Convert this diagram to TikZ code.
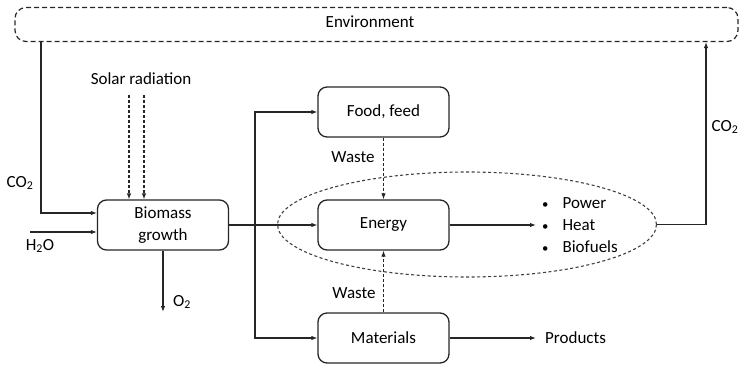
\documentclass[tikz,border=0pt]{standalone}
\usepackage{fontspec}
\usepackage{graphicx}
\setmainfont{Carlito}
\usetikzlibrary{arrows.meta,shapes.geometric}
\newcommand{\mybul}{\raisebox{0.5pt}{\scalebox{0.75}{\textbullet}}}
\begin{document}
\begin{tikzpicture}[x=1pt,y=-1pt,
  font=\fontsize{17}{22}\selectfont,
  arr/.style={draw=black!85,line width=1.1pt,-{Latex[length=6pt,width=4.5pt]}},
  darr/.style={draw=black!85,line width=1.1pt,dash pattern=on 3pt off 2pt,-{Latex[length=6pt,width=4.5pt]}},
  box/.style={draw=black!85,line width=1.3pt,rounded corners=9pt,minimum width=131pt,minimum height=50pt,align=center,inner sep=0pt},
  lbl/.style={inner sep=0pt}]
\useasboundingbox (0,0) rectangle (740,365);
\node[draw=black!85,line width=1.2pt,dash pattern=on 5pt off 3pt,rounded corners=11pt,minimum width=723pt,minimum height=34pt,inner sep=0pt] (env) at (376.5,24.5) {};
\node[lbl] (envt) at (370,22) {Environment};
\node[box] (bio) at (163,225) {Biomass\\growth};
\node[box] (food) at (383.5,112) {Food, feed};
\node[box] (energy) at (383.5,225) {Energy};
\node[box] (mat) at (383.5,338) {Materials};
\node[draw=black!75,line width=1.1pt,dash pattern=on 3pt off 2.5pt,ellipse,minimum width=379pt,minimum height=105pt,inner sep=0pt] (ell) at (467,224.5) {};
\node[lbl,anchor=west] (outs) at (542,226.5) {\def\arraystretch{1.0}\begin{tabular}{@{}l@{\hspace{14pt}}l@{}}\mybul & Power\\ \mybul & Heat\\ \mybul & Biofuels\end{tabular}};
\node[lbl,anchor=west] (prod) at (545,338) {Products};
\node[lbl] (solar) at (141,79) {Solar radiation};
\node[lbl] (co2l) at (20,183) {CO\textsubscript{2}};
\node[lbl] (h2ol) at (40,246) {H\textsubscript{2}O};
\node[lbl,anchor=west] (o2l) at (173,302) {O\textsubscript{2}};
\node[lbl] (w1) at (353,157) {Waste};
\node[lbl] (w2) at (354,293) {Waste};
\node[lbl] (co2r) at (725,127) {CO\textsubscript{2}};
\coordinate (s1) at (129,95);
\coordinate (s2) at (144,95);
\coordinate (h2o) at (30,232);
\coordinate (o2) at (163,312);
\coordinate (lx) at (41,0);
\coordinate (br) at (255,0);
\coordinate (rx) at (706,0);
\coordinate (oe) at (536,0);
% connectors
\draw[arr] (env.south -| lx) |- ([yshift=12pt]bio.west);
\draw[arr] (h2o) -- (h2o -| bio.west);
\draw[darr] (s1) -- (s1 |- bio.north);
\draw[darr] (s2) -- (s2 |- bio.north);
\draw[arr] (bio.south) -- (o2);
\draw[arr] (bio.east) -- (energy.west);
\draw[arr] (bio.east -| br) |- (food.west);
\draw[arr] (bio.east -| br) |- (mat.west);
\draw[darr] (food.south) -- (energy.north);
\draw[darr] (mat.north) -- (energy.south);
\draw[arr] (energy.east) -- (energy.east -| oe);
\draw[arr] (mat.east) -- (mat.east -| oe);
\draw[arr] (ell.east) -| (env.south -| rx);
\end{tikzpicture}
\end{document}
